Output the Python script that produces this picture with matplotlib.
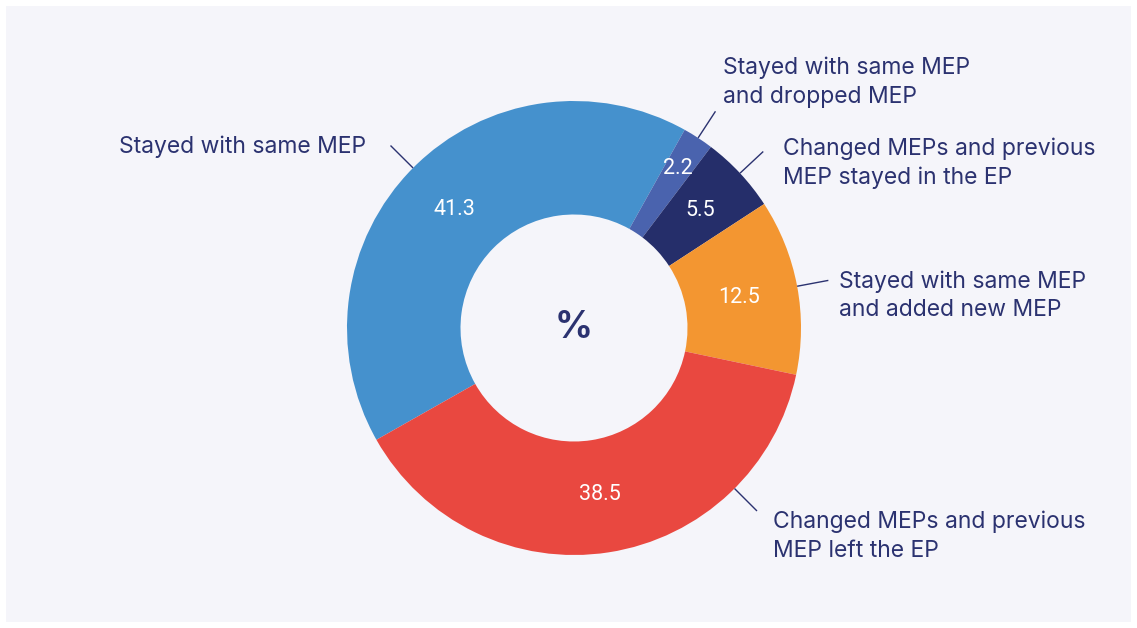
import numpy as np
import matplotlib.pyplot as plt
from matplotlib.patches import Rectangle

# Share of respondents, %
labels = [
    "Stayed with same MEP",
    "Stayed with same MEP\nand dropped MEP",
    "Changed MEPs and previous\nMEP stayed in the EP",
    "Stayed with same MEP\nand added new MEP",
    "Changed MEPs and previous\nMEP left the EP",
]
values = [41.3, 2.2, 5.5, 12.5, 38.5]
value_labels = ["41.3", "2.2", "5.5", "12.5", "38.5"]
colors = ["#4591cd", "#4a63ae", "#252e6a", "#f39631", "#e94840"]

TEXT = "#2b3270"
BG = "#f5f5fa"

fig = plt.figure(figsize=(11.37, 6.28), dpi=100)
fig.patch.set_facecolor("white")
fig.add_artist(Rectangle((6 / 1137, 6 / 628), 1125 / 1137, 616 / 628,
                         transform=fig.transFigure, facecolor=BG,
                         edgecolor="none", zorder=0))

# axes spans the whole figure; 1 data unit = 227 px, centre at (574, 328) px
R = 227.0
ax = fig.add_axes([0, 0, 1, 1])
ax.patch.set_alpha(0)

wedges, _ = ax.pie(values, colors=colors, startangle=209.5, counterclock=False,
                   radius=1.0, wedgeprops=dict(width=0.5, linewidth=0))
ax.set_xlim(-574 / R, (1137 - 574) / R)
ax.set_ylim(-(628 - 328) / R, 328 / R)
ax.set_aspect("auto")
ax.axis("off")

# value labels inside the ring
label_r = [0.74, 0.84, 0.76, 0.74, 0.74]
for w, txt, r in zip(wedges, value_labels, label_r):
    ang = np.deg2rad((w.theta1 + w.theta2) / 2)
    ax.text(r * np.cos(ang), r * np.sin(ang), txt, ha="center", va="center",
            color="white", fontsize=15.5, family="Roboto")

# outer labels with short leader lines
leader_angle = [None, None, None, None, -45.0]
text_pos = [(-0.916, 0.80), (0.656, 1.082), (0.921, 0.726),
            (1.167, 0.141), (0.877, -0.918)]
text_ha = ["right", "left", "left", "left", "left"]
for w, lab, la, pos, ha in zip(wedges, labels, leader_angle, text_pos, text_ha):
    a = (w.theta1 + w.theta2) / 2 if la is None else la
    a = np.deg2rad(a)
    ax.plot([1.0 * np.cos(a), 1.14 * np.cos(a)], [1.0 * np.sin(a), 1.14 * np.sin(a)],
            color=TEXT, lw=1.0, solid_capstyle="butt")
    ax.text(pos[0], pos[1], lab, ha=ha, va="center", color=TEXT, fontsize=16.5,
            family="Inter", linespacing=1.37)

ax.text(0, 0, "%", ha="center", va="center", color=TEXT, fontsize=27,
        fontweight="bold", family="Inter")

fig.savefig("out.png", dpi=100, facecolor=fig.get_facecolor())
